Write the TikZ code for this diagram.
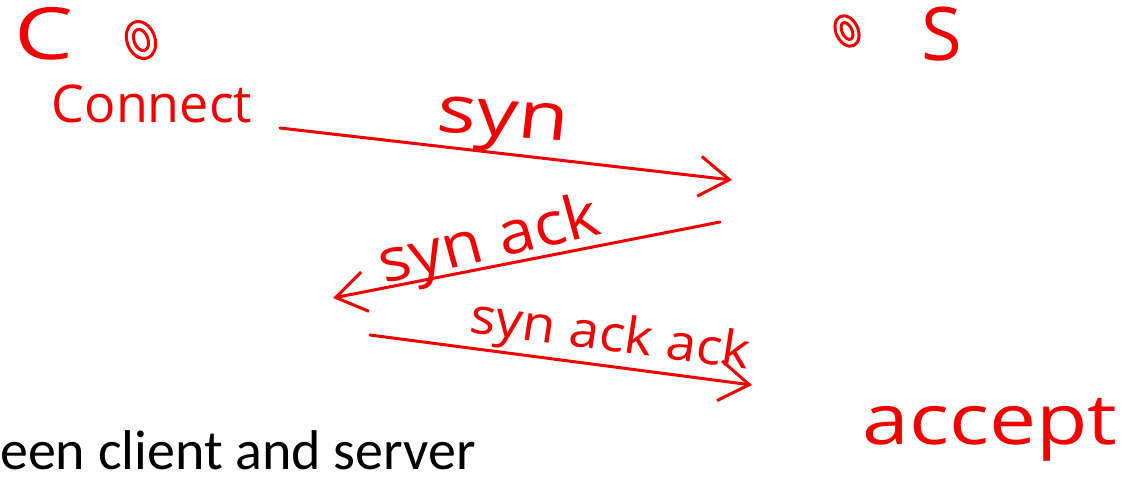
\documentclass[tikz,border=0pt]{standalone}
\usepackage{fontspec}
\setmainfont{Carlito}
\newfontfamily\handfont{Open Sans}
\usetikzlibrary{arrows.meta}
\definecolor{ink}{RGB}{240,0,0}
\tikzset{
  hand/.style={text=ink, font=\handfont, inner sep=0pt},
  pen/.style={draw=ink, line width=3pt, line cap=round, line join=round},
  msg/.style={pen, -{Straight Barb[length=30pt,width=40pt,line width=3pt]}},
}
\begin{document}
\begin{tikzpicture}[x=1pt,y=-1pt]
\useasboundingbox[fill=white] (0,0) rectangle (1145,479);

% endpoint labels
\node[hand, font=\handfont\fontsize{72}{72}\selectfont, xscale=1.3] (c) at (44,34) {C};
\node[hand, font=\handfont\fontsize{74}{74}\selectfont] (s) at (942,34) {S};

% socket marks
\coordinate (sockc) at (141,40);
\draw[pen, rotate around={20:(sockc)}] (sockc) ellipse [x radius=14pt, y radius=19pt];
\draw[pen, rotate around={20:(sockc)}] (sockc) ellipse [x radius=7pt, y radius=11pt];
\coordinate (socks) at (847,31);
\draw[pen, rotate around={25:(socks)}] (socks) ellipse [x radius=11pt, y radius=16pt];
\draw[pen, rotate around={25:(socks)}] (socks) ellipse [x radius=5pt, y radius=9pt];

% calls
\node[hand, font=\handfont\fontsize{52}{52}\selectfont, xscale=1.0] (connect) at (152,104) {Connect};
\node[hand, font=\handfont\fontsize{70}{70}\selectfont, xscale=1.2] (accept) at (990,430) {accept};

% handshake messages
\coordinate (m1s) at (280,128);
\coordinate (m1e) at (732,180);
\coordinate (m2s) at (720,222);
\coordinate (m2e) at (333,298);
\coordinate (m3s) at (370,335);
\coordinate (m3e) at (752,385);

\draw[msg] (m1s) -- (m1e);
\draw[msg] (m2s) -- (m2e);
\draw[msg] (m3s) -- (m3e);

\node[hand, font=\handfont\fontsize{66}{66}\selectfont, xscale=1.25, rotate=-5] (syn) at (502,126) {syn};
\node[hand, font=\handfont\fontsize{60}{60}\selectfont, xscale=1.1, rotate=14] (synack) at (490,244) {syn ack};
\node[hand, font=\handfont\fontsize{50}{50}\selectfont, xscale=1.08, rotate=-8] (synackack) at (610,338) {syn ack ack};

% slide caption fragment
\node[anchor=base west, inner sep=0pt, font=\fontsize{56}{56}\selectfont] (caption) at (0,469) {een client and server};
\end{tikzpicture}
\end{document}
